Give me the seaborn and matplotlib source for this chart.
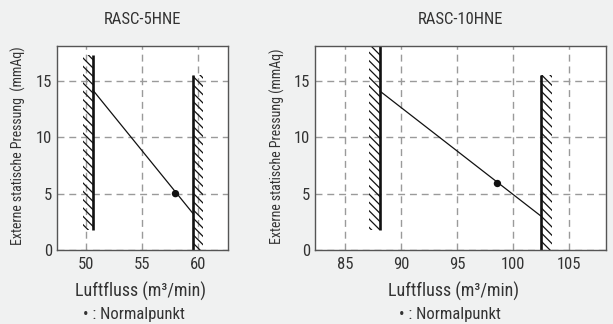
import matplotlib
matplotlib.use("Agg")
import matplotlib.pyplot as plt
import seaborn as sns
import pandas as pd

# ---- data ----
titles = ["RASC-5HNE", "RASC-10HNE"]
ylabels = ["Externe statische Pressung  (mmAq)", "Externe statische Pressung (mmAq)"]
xlabel = "Luftfluss (m³/min)"
note = "• : Normalpunkt"
xticks = [[50, 55, 60], [85, 90, 95, 100, 105]]
yticks = [0, 5, 10, 15]
xlims = [(47.4, 62.7), (82.3, 108.3)]
ylim = (0, 18.1)

# minimum airflow wall (x, y bottom, y top), hatch on left
min_wall_x = [50.6, 88.1]
min_wall_y0 = [1.8, 1.8]
min_wall_y1 = [17.3, 18.1]
# maximum airflow wall, hatch on right
max_wall_x = [59.6, 102.5]
max_wall_y0 = [0.0, 0.0]
max_wall_y1 = [15.5, 15.5]
hatch_w = [0.9, 1.0]

# fan curve end points
curve_x = [[50.6, 59.6], [88.1, 102.5]]
curve_y = [[14.2, 3.2], [14.1, 3.0]]
# normal point
normal_x = [58.0, 98.6]
normal_y = [5.0, 5.9]

# ---- style ----
sns.set_theme(style="white")
plt.rcParams["font.family"] = ["Roboto Condensed", "DejaVu Sans"]
plt.rcParams["hatch.linewidth"] = 0.9
txt = "#333333"

fig = plt.figure(figsize=(6.13, 3.24), dpi=100, facecolor="#f0f1f1")
axes_rects = [[57/613, 1-250/324, 171/613, 204/324],
              [315/613, 1-250/324, 291/613, 204/324]]
title_x = [142.5/613, 460/613]
xlab_x = [140.5/613, 454/613]
note_x = [133.5/613, 450/613]
ylab_x = [18/613, 277/613]

for i in range(2):
    ax = fig.add_axes(axes_rects[i])
    ax.set_facecolor("white")
    ax.set_xlim(*xlims[i])
    ax.set_ylim(*ylim)
    ax.set_xticks(xticks[i])
    ax.set_yticks(yticks)
    ax.grid(True, color="#9a9a9a", linewidth=1.0, linestyle=(0, (5, 3.5)))
    ax.set_axisbelow(True)
    for s in ax.spines.values():
        s.set_color("#555555")
        s.set_linewidth(1.0)
    ax.tick_params(length=0, labelsize=12, colors=txt)
    ax.tick_params(axis="x", pad=5)
    ax.tick_params(axis="y", pad=3.5)

    # hatched limits
    ax.fill_betweenx([min_wall_y0[i], min_wall_y1[i]],
                     min_wall_x[i] - hatch_w[i], min_wall_x[i],
                     hatch="\\\\\\\\", facecolor="none", edgecolor="#111111", linewidth=0)
    ax.fill_betweenx([max_wall_y0[i], max_wall_y1[i]],
                     max_wall_x[i], max_wall_x[i] + hatch_w[i],
                     hatch="\\\\\\\\", facecolor="none", edgecolor="#111111", linewidth=0)
    ax.vlines([min_wall_x[i]], [min_wall_y0[i]], [min_wall_y1[i]], color="#111111", linewidth=1.9)
    ax.vlines([max_wall_x[i]], [max_wall_y0[i]], [max_wall_y1[i]], color="#111111", linewidth=1.9)

    df = pd.DataFrame({"x": curve_x[i], "y": curve_y[i]})
    sns.lineplot(data=df, x="x", y="y", ax=ax, color="#111111", linewidth=0.9)
    sns.scatterplot(x=[normal_x[i]], y=[normal_y[i]], ax=ax, color="#111111",
                    s=28, edgecolor="none", zorder=5)
    ax.set_xlabel("")
    ax.set_ylabel("")

    fig.text(title_x[i], 1-19/324, titles[i], ha="center", va="center", fontsize=12, color=txt)
    fig.text(xlab_x[i], 1-291/324, xlabel, ha="center", va="center", fontsize=13, color=txt)
    fig.text(note_x[i], 1-315/324, note, ha="center", va="center", fontsize=12, color=txt)
    fig.text(ylab_x[i], 1-146/324, ylabels[i], ha="center", va="center", rotation=90,
             fontsize=10, color=txt)

fig.savefig("out.png", dpi=100, facecolor=fig.get_facecolor())
